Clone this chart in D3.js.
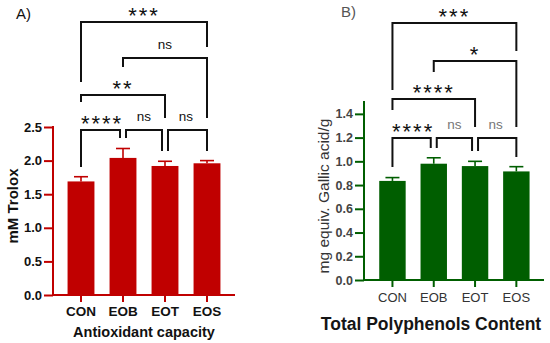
<!DOCTYPE html>
<html>
<head>
<meta charset="utf-8">
<script src="https://cdn.jsdelivr.net/npm/d3@7"></script>
<style>
body { margin: 0; background: #fff; }
svg { display: block; font-family: "Liberation Sans", Arial, sans-serif; }
</style>
</head>
<body>
<svg width="550" height="343"></svg>
<script>
// groups and values
const groups = ['CON', 'EOB', 'EOT', 'EOS'];
const antioxMean = [1.69, 2.04, 1.92, 1.96];
const antioxErr = [0.07, 0.14, 0.07, 0.04];
const polyMean = [0.835, 0.98, 0.96, 0.915];
const polyErr = [0.028, 0.05, 0.04, 0.04];
const antioxTicks = [0, 0.5, 1.0, 1.5, 2.0, 2.5];
const polyTicks = [0, 0.2, 0.4, 0.6, 0.8, 1.0, 1.2, 1.4];
// comparisons: [group a, group b, label]
const antioxComp = [[0, 1, '****'], [1, 2, 'ns'], [2, 3, 'ns'], [0, 2, '**'], [1, 3, 'ns'], [0, 3, '***']];
const polyComp = [[0, 1, '****'], [1, 2, 'ns'], [2, 3, 'ns'], [0, 2, '****'], [1, 3, '*'], [0, 3, '***']];

const svg = d3.select('svg');

// layout of each panel (pixels)
const panels = [
	{
		tag: 'A)', tagX: 16, tagY: 19, tagColor: '#111', tagWeight: 'normal',
		mean: antioxMean, err: antioxErr, ticks: antioxTicks, fmt: d3.format('.1f'),
		domain: [0, 2.5], yRange: [295, 127], axisX: 53, xEnd: 235,
		band: [60, 228], color: '#c00000',
		tickFont: 13, tickWeight: 'bold', tickColor: '#111',
		catFont: 13.5, catWeight: 'bold', catColor: '#111', catBase: 316,
		title: 'Antioxidant capacity', titleX: 144, titleY: 337, titleFont: 14.5, titleColor: '#111',
		yTitle: 'mM Trolox', yTitleX: 13, yTitleY: 206, yTitleFont: 15, yTitleWeight: 'bold', yTitleColor: '#111',
		comp: antioxComp, levels: [0, 0, 0, 1, 2, 3], levelY: [130, 95, 58, 22],
		legs: [[167, 138], [138, 151], [151, 151], [102, 118], [67, 118], [82, 47]],
		nsColor: '#111'
	},
	{
		tag: 'B)', tagX: 341, tagY: 17, tagColor: '#555', tagWeight: 'normal',
		mean: polyMean, err: polyErr, ticks: polyTicks, fmt: d3.format('.1f'),
		domain: [0, 1.5], yRange: [280, 102], axisX: 364, xEnd: 544,
		band: [371.8, 537], color: '#005e00',
		tickFont: 12.5, tickWeight: 'bold', tickColor: '#444',
		catFont: 13, catWeight: 'normal', catColor: '#333', catBase: 302,
		title: 'Total Polyphenols Content', titleX: 431, titleY: 330, titleFont: 17.5, titleColor: '#151515',
		yTitle: 'mg equiv. Gallic acid/g', yTitleX: 324, yTitleY: 196, yTitleFont: 15.5, yTitleWeight: 'normal', yTitleColor: '#333',
		comp: polyComp, levels: [0, 0, 0, 1, 2, 3], levelY: [138, 99, 61, 23],
		legs: [[167, 148], [148, 151], [151, 157], [110, 127], [72, 127], [90, 51]],
		nsColor: '#777'
	}
];

for (const p of panels) {
	const g = svg.append('g');
	const y = d3.scaleLinear().domain(p.domain).range(p.yRange);
	const x = d3.scaleBand().domain(groups).range(p.band).paddingInner(0.36).paddingOuter(0.18);
	const cx = i => x(groups[i]) + x.bandwidth() / 2;
	const y0 = p.yRange[0];

	// bars
	g.selectAll('rect.bar').data(p.mean).enter().append('rect')
	.attr('x', (d, i) => x(groups[i])).attr('width', x.bandwidth())
	.attr('y', d => y(d)).attr('height', d => y0 - y(d))
	.style('fill', p.color);

	// error bars (upper only)
	const eb = g.selectAll('g.err').data(p.mean).enter().append('g')
	.style('stroke', p.color).style('stroke-width', 1.6);
	eb.append('line')
	.attr('x1', (d, i) => cx(i)).attr('x2', (d, i) => cx(i))
	.attr('y1', d => y(d)).attr('y2', (d, i) => y(d + p.err[i]));
	eb.append('line')
	.attr('x1', (d, i) => cx(i) - 7).attr('x2', (d, i) => cx(i) + 7)
	.attr('y1', (d, i) => y(d + p.err[i])).attr('y2', (d, i) => y(d + p.err[i]));

	// y axis
	const ya = g.append('g').attr('transform', `translate(${p.axisX},0)`)
	.call(d3.axisLeft(y).tickValues(p.ticks).tickFormat(p.fmt).tickSize(9).tickPadding(2).tickSizeOuter(0));
	ya.select('.domain').remove();
	ya.append('line').attr('x1', 0).attr('x2', 0).attr('y1', p.yRange[1] - 1).attr('y2', y0 + 1)
	.style('stroke', p.color).style('stroke-width', 2);
	ya.selectAll('.tick line').style('stroke', p.color).style('stroke-width', 2);
	ya.selectAll('.tick text').style('font-size', p.tickFont + 'px').style('font-weight', p.tickWeight)
	.style('fill', p.tickColor).style('font-family', 'Liberation Sans, Arial, sans-serif');

	// x axis
	const xa = g.append('g').attr('transform', `translate(0,${y0})`)
	.call(d3.axisBottom(x).tickSize(7).tickPadding(p.catBase - y0 - 7 - 0.71 * p.catFont).tickSizeOuter(0));
	xa.select('.domain').remove();
	xa.append('line').attr('x1', p.axisX).attr('x2', p.xEnd).attr('y1', 0).attr('y2', 0)
	.style('stroke', p.color).style('stroke-width', 2);
	xa.selectAll('.tick line').style('stroke', p.color).style('stroke-width', 2);
	xa.selectAll('.tick text').style('font-size', p.catFont + 'px').style('font-weight', p.catWeight)
	.style('fill', p.catColor).style('font-family', 'Liberation Sans, Arial, sans-serif');

	// titles
	g.append('text').attr('x', p.titleX).attr('y', p.titleY).attr('text-anchor', 'middle')
	.style('font-size', p.titleFont + 'px').style('font-weight', 'bold').style('fill', p.titleColor)
	.text(p.title);
	g.append('text').attr('transform', `translate(${p.yTitleX},${p.yTitleY}) rotate(-90)`)
	.attr('text-anchor', 'middle').attr('dy', '0.35em')
	.style('font-size', p.yTitleFont + 'px').style('font-weight', p.yTitleWeight).style('fill', p.yTitleColor)
	.text(p.yTitle);
	g.append('text').attr('x', p.tagX).attr('y', p.tagY)
	.style('font-size', '15px').style('font-weight', p.tagWeight).style('fill', p.tagColor)
	.text(p.tag);

	// significance brackets
	p.comp.forEach((c, k) => {
		const lev = p.levels[k];
		const ly = p.levelY[lev];
		const xl = cx(c[0]) + (lev === 0 && c[0] > 0 ? 3 : 0);
		const xr = cx(c[1]) - (lev === 0 && c[1] < groups.length - 1 ? 3 : 0);
		g.append('path')
		.attr('d', `M${xl},${p.legs[k][0]}V${ly}H${xr}V${p.legs[k][1]}`)
		.style('fill', 'none').style('stroke', '#111').style('stroke-width', 2);
		const star = c[2] !== 'ns';
		g.append('text').attr('x', (cx(c[0]) + cx(c[1])) / 2)
		.attr('y', star ? ly + 1 : ly - 9.5).attr('text-anchor', 'middle')
		.style('font-size', star ? '22px' : '13.5px')
		.style('letter-spacing', star ? '2px' : '0px')
		.style('fill', star ? '#111' : p.nsColor)
		.text(c[2]);
	});
}
</script>
</body>
</html>
